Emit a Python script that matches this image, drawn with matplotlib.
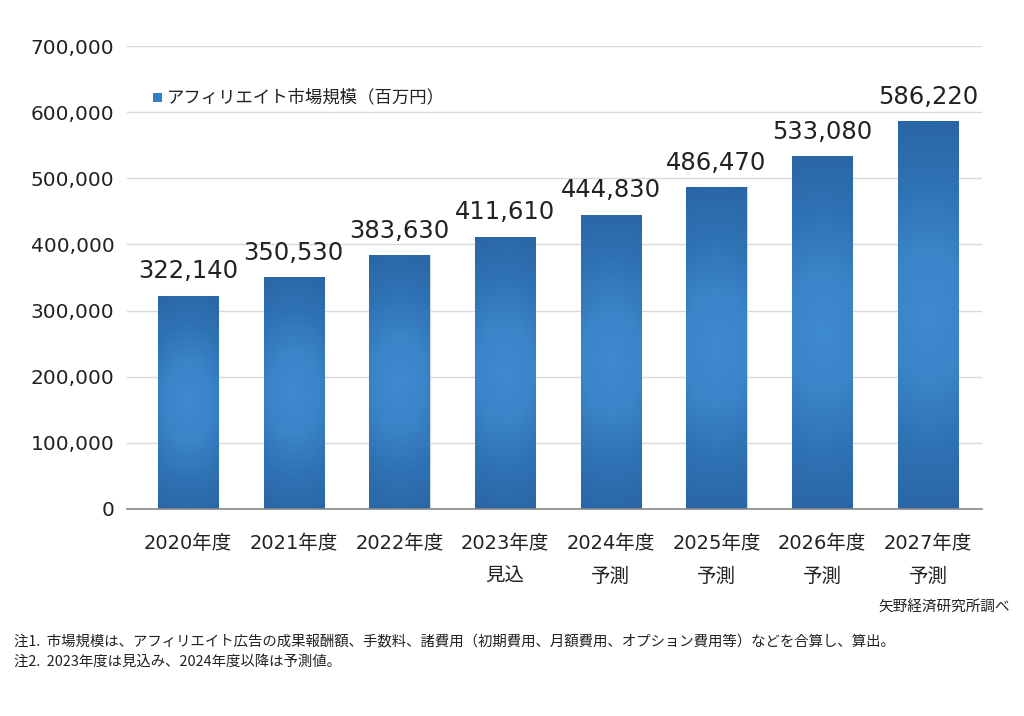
import matplotlib
matplotlib.use("Agg")
import matplotlib.pyplot as plt
import numpy as np
from matplotlib.colors import LinearSegmentedColormap

plt.rcParams['font.family'] = ['DejaVu Sans', 'Noto Sans CJK JP']

categories = ["2020年度", "2021年度", "2022年度", "2023年度\n見込", "2024年度\n予測",
              "2025年度\n予測", "2026年度\n予測", "2027年度\n予測"]
values = [322140, 350530, 383630, 411610, 444830, 486470, 533080, 586220]
yticks = [0, 100000, 200000, 300000, 400000, 500000, 600000, 700000]
legend_label = "アフィリエイト市場規模（百万円）"
source = "矢野経済研究所調べ"
notes = ["注1.  市場規模は、アフィリエイト広告の成果報酬額、手数料、諸費用（初期費用、月額費用、オプション費用等）などを合算し、算出。",
         "注2.  2023年度は見込み、2024年度以降は予測値。"]

CJK = ['Noto Sans CJK JP', 'DejaVu Sans']

fig = plt.figure(figsize=(10.24, 7.16), dpi=100)
ax = fig.add_axes([127/1024, 1-509/716, (982-127)/1024, (509-46)/716])

x = np.arange(len(categories))
width = 0.57
bars = ax.bar(x, values, width=width, color='#3480c4', edgecolor='#d0d8e0', linewidth=0.8, zorder=2)

cmap = LinearSegmentedColormap.from_list('g', ['#3f8bd0', '#3a84c8', '#2f72b4', '#2a66a6'])
for b in bars:
    x0, y0 = b.get_x(), b.get_y()
    w, h = b.get_width(), b.get_height()
    ny, nx = 200, 40
    yy = np.linspace(-1, 1, ny)[:, None]
    xx = np.linspace(-1, 1, nx)[None, :]
    r = np.sqrt((xx * 0.6) ** 2 + (yy * (h / 700000) * 463 / 60 * 0.35) ** 2)
    r = np.clip(r / max(r.max(), 1e-9), 0, 1)
    im = ax.imshow(r, extent=[x0, x0 + w, y0, y0 + h], aspect='auto', cmap=cmap,
                   vmin=0, vmax=1, origin='lower', zorder=2.5)
    im.set_clip_path(b)

for xi, v in zip(x, values):
    ax.annotate(f"{v:,}", (xi, v), xytext=(0, 9), textcoords='offset points',
                ha='center', va='bottom', fontsize=17.5, color='#222222')

ax.set_xlim(-0.577, 7.511)
ax.set_ylim(0, 700000)
ax.set_yticks(yticks)
ax.set_yticklabels([f"{t:,}" for t in yticks], fontsize=14.5, color='#222222')
ax.set_xticks(x)
ax.set_xticklabels(categories, fontsize=14, color='#222222', linespacing=1.95)
ax.tick_params(axis='y', length=0, pad=9)
ax.tick_params(axis='x', length=0, pad=18)
ax.grid(axis='y', color='#d9d9d9', linewidth=1, zorder=0)
ax.set_axisbelow(True)
for s in ['left', 'right', 'top']:
    ax.spines[s].set_visible(False)
ax.spines['bottom'].set_color('#888888')
ax.spines['bottom'].set_linewidth(1.2)

# legend
fig.patches.append(plt.Rectangle((153/1024, 1-102/716), 9/1024, 9/716, transform=fig.transFigure,
                                 facecolor='#3480c4', edgecolor='none'))
fig.text(167/1024, 1-97/716, legend_label, fontsize=12.5, va='center', ha='left', color='#222222',
         family=CJK)

fig.text(1010/1024, 1-607/716, source, fontsize=10.5, ha='right', va='center', color='#222222',
         family=CJK)
fig.text(14/1024, 1-641/716, notes[0], fontsize=10.4, ha='left', va='center', color='#222222',
         family=CJK)
fig.text(14/1024, 1-662/716, notes[1], fontsize=10.4, ha='left', va='center', color='#222222',
         family=CJK)

fig.savefig("out.png", dpi=100)
